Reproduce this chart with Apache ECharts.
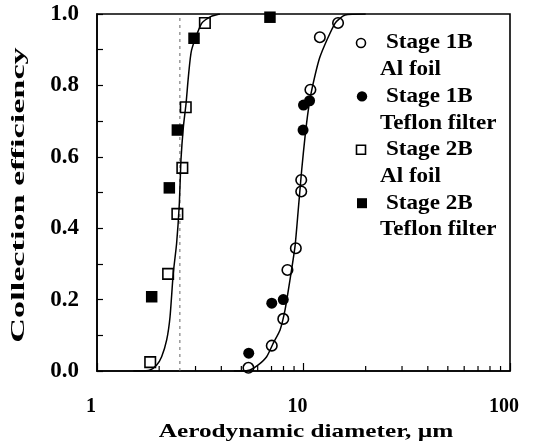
<!DOCTYPE html>
<html><head><meta charset="utf-8">
<script src="https://cdn.jsdelivr.net/npm/echarts@6/dist/echarts.min.js"></script>
<style>html,body{margin:0;padding:0;background:#fff}#c{width:533px;height:447px}</style>
</head><body><div id="c"></div>
<script>
// ---- data ----
const xTickLabels = ['1', '10', '100'];
const xMinorTicks = [2, 3, 4, 5, 6, 7, 8, 9, 20, 30, 40, 50, 60, 70, 80, 90];
const yTickLabels = ['0.0', '0.2', '0.4', '0.6', '0.8', '1.0'];

const stage1B_Al_x = [14.7, 12.0, 10.8, 9.75, 9.75, 9.18, 8.36, 7.98, 7.02, 5.41];
const stage1B_Al_y = [0.975, 0.935, 0.788, 0.535, 0.503, 0.344, 0.283, 0.146, 0.071, 0.009];

const stage1B_Tf_x = [10.7, 10.0, 9.95, 7.98, 7.02, 5.43];
const stage1B_Tf_y = [0.757, 0.745, 0.675, 0.200, 0.190, 0.050];

const stage2B_Al_x = [3.33, 2.69, 2.59, 2.45, 2.21, 1.81];
const stage2B_Al_y = [0.975, 0.739, 0.569, 0.440, 0.272, 0.025];

const stage2B_Tf_x = [6.88, 2.95, 2.45, 2.24, 1.84];
const stage2B_Tf_y = [0.991, 0.932, 0.675, 0.513, 0.208];

const curve1B_x = [4.6, 5.02, 5.51, 6.04, 6.63, 7.14, 7.70, 8.14, 8.60, 9.10, 9.43, 9.80, 10.17, 10.55, 10.96, 12.02, 14.21, 15.9, 20.0];
const curve1B_y = [0, 0, 0.003, 0.017, 0.040, 0.078, 0.115, 0.171, 0.255, 0.350, 0.451, 0.563, 0.656, 0.731, 0.787, 0.880, 0.974, 0.997, 1.0];

const curve2B_x = [1.5, 1.615, 1.807, 1.946, 2.056, 2.175, 2.258, 2.34, 2.43, 2.505, 2.55, 2.62, 2.70, 2.77, 2.87, 3.21, 3.53, 3.94];
const curve2B_y = [0, 0, 0.003, 0.017, 0.040, 0.087, 0.152, 0.273, 0.358, 0.470, 0.591, 0.684, 0.750, 0.824, 0.899, 0.974, 0.992, 1.0];

const cutoff2B_x = [2.52, 2.52];
const cutoff2B_y = [0, 1];

const legendLines = ['Stage 1B', 'Al foil', 'Stage 1B', 'Teflon filter', 'Stage 2B', 'Al foil', 'Stage 2B', 'Teflon filter'];

// ---- chart ----
const pair = (xs, ys) => xs.map((x, i) => [x, ys[i]]);
const serif = '"Liberation Serif", "Times New Roman", serif';
const font = (s) => 'bold ' + s + 'px "Liberation Serif", serif';

const chart = echarts.init(document.getElementById('c'), null, { renderer: 'canvas' });

const legendY0 = 43, legendDy = 26.7;
const graphics = [];
legendLines.forEach((t, i) => {
  const first = i % 2 === 0;
  graphics.push({
    type: 'text', x: first ? 386 : 380, y: legendY0 + legendDy * i, scaleX: 1.1,
    style: { text: t, font: font(21), fill: '#000', align: 'left', verticalAlign: 'middle', textAlign: 'left', textVerticalAlign: 'middle' }
  });
});
const symY = (k) => legendY0 + legendDy * 2 * k;
graphics.push({ type: 'circle', shape: { cx: 361, cy: symY(0), r: 4.5 }, style: { fill: 'none', stroke: '#000', lineWidth: 1.6 } });
graphics.push({ type: 'circle', shape: { cx: 362, cy: symY(1), r: 5.2 }, style: { fill: '#000' } });
graphics.push({ type: 'rect', shape: { x: 356.5, y: symY(2) - 4.5, width: 9, height: 9 }, style: { fill: 'none', stroke: '#000', lineWidth: 1.6 } });
graphics.push({ type: 'rect', shape: { x: 357, y: symY(3) - 5, width: 10, height: 10 }, style: { fill: '#000' } });
graphics.push({
  type: 'text', x: 19, y: 195, rotation: Math.PI / 2, scaleX: 1.8,
  style: { text: 'Collection efficiency', font: font(19), fill: '#000', align: 'center', verticalAlign: 'middle', textAlign: 'center', textVerticalAlign: 'middle' }
});
graphics.push({
  type: 'text', x: 306, y: 432, scaleX: 1.33,
  style: { text: 'Aerodynamic diameter, µm', font: font(19), fill: '#000', align: 'center', verticalAlign: 'middle', textAlign: 'center', textVerticalAlign: 'middle' }
});

const openStyle = { color: 'rgba(0,0,0,0)', borderColor: '#000', borderWidth: 1.6, opacity: 1 };
const option = {
  animation: false,
  backgroundColor: '#fff',
  grid: { left: 97, right: 23, top: 14, bottom: 76, show: true, borderColor: '#000', borderWidth: 1.6, containLabel: false, outerBoundsMode: 'none' },
  xAxis: {
    type: 'log', logBase: 10, min: 1, max: 100,
    axisLine: { lineStyle: { color: '#000', width: 1.6 } },
    axisTick: { inside: true, length: 8, lineStyle: { color: '#000', width: 1.2 } },
    minorTick: { show: false },
    splitLine: { show: false }, minorSplitLine: { show: false },
    axisLabel: {
      margin: 26, fontFamily: serif, fontWeight: 'bold', fontSize: 20, color: '#000', padding: [0, 12, 0, 0],
      formatter: (v) => { const k = Math.round(Math.log10(v)); return xTickLabels[k] !== undefined ? xTickLabels[k] : ''; }
    }
  },
  yAxis: {
    type: 'value', min: 0, max: 1, interval: 0.2,
    axisLine: { lineStyle: { color: '#000', width: 1.6 } },
    axisTick: { inside: true, length: 6, lineStyle: { color: '#000', width: 1.2 } },
    minorTick: { show: true, splitNumber: 2, length: 6, lineStyle: { color: '#000', width: 1.2 } },
    splitLine: { show: false }, minorSplitLine: { show: false },
    axisLabel: {
      margin: 18, fontFamily: serif, fontWeight: 'bold', fontSize: 23, color: '#000',
      formatter: (v) => yTickLabels[Math.round(v * 5)]
    }
  },
  graphic: graphics,
  series: [
    {
      type: 'custom', data: xMinorTicks.map(v => [v, 0]), silent: true, z: 5,
      renderItem: (params, api) => {
        const p = api.coord([api.value(0), api.value(1)]);
        return { type: 'line', shape: { x1: p[0], y1: p[1], x2: p[0], y2: p[1] - 5 }, style: { stroke: '#000', lineWidth: 1.2 } };
      }
    },
    { type: 'line', data: pair(cutoff2B_x, cutoff2B_y), showSymbol: false, lineStyle: { color: '#666', width: 1, type: [3, 4] }, z: 1, silent: true },
    { type: 'line', data: pair(curve1B_x, curve1B_y), showSymbol: false, smooth: 0.2, lineStyle: { color: '#000', width: 1.5 }, z: 2, silent: true },
    { type: 'line', data: pair(curve2B_x, curve2B_y), showSymbol: false, smooth: 0.2, lineStyle: { color: '#000', width: 1.5 }, z: 2, silent: true },
    { name: 'Stage 1B Al foil', type: 'scatter', data: pair(stage1B_Al_x, stage1B_Al_y), symbol: 'circle', symbolSize: 10.5, itemStyle: openStyle, z: 3 },
    { name: 'Stage 1B Teflon filter', type: 'scatter', data: pair(stage1B_Tf_x, stage1B_Tf_y), symbol: 'circle', symbolSize: 11, itemStyle: { color: '#000', opacity: 1 }, z: 3 },
    { name: 'Stage 2B Al foil', type: 'scatter', data: pair(stage2B_Al_x, stage2B_Al_y), symbol: 'rect', symbolSize: 10.5, itemStyle: openStyle, z: 3 },
    { name: 'Stage 2B Teflon filter', type: 'scatter', data: pair(stage2B_Tf_x, stage2B_Tf_y), symbol: 'rect', symbolSize: 11.5, itemStyle: { color: '#000', opacity: 1 }, z: 3 }
  ]
};
chart.setOption(option);
</script>
</body></html>
